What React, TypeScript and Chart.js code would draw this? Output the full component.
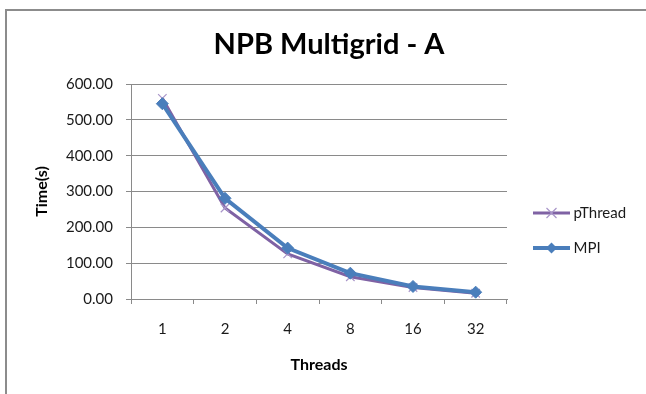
import React, { useEffect, useRef } from 'react';
import { Chart, registerables } from 'chart.js';

Chart.register(...registerables);

// ---- data ----
const threadLabels = ['1', '2', '4', '8', '16', '32'];
const pThreadTimes = [560, 254, 126, 62, 32, 16];
const mpiTimes = [545, 281, 142, 72, 35, 19];
const seriesNames = ['pThread', 'MPI'];
const titleText = 'NPB Multigrid - A';
const xTitle = 'Threads';
const yTitle = 'Time(s)';
const yMin = 0;
const yMax = 600;
const yStep = 100;

// ---- style / layout ----
const W = 646;
const H = 394;
const FONT = 'Lato';
const PURPLE = '#7f62a4';
const PURPLE_LIGHT = '#a996c9';
const BLUE = '#4a7ebb';
const GRID = '#8a8a8a';
const TEXT = '#1a1a1a';
const plotLeft = 131;
const plotRight = 507;
const tickSize = 15;
const legendSize = 15;
const legendPad = 20;
const legendBoxW = 39;
const axisTitleSize = 16;

function makeIcon(color: string, lineW: number, marker: 'cross' | 'diamond'): HTMLCanvasElement {
  const c = document.createElement('canvas');
  c.width = 47;
  c.height = 16;
  const ctx = c.getContext('2d')!;
  ctx.strokeStyle = color;
  ctx.lineWidth = lineW;
  ctx.beginPath();
  ctx.moveTo(10, 8);
  ctx.lineTo(47, 8);
  ctx.stroke();
  const cx = 28.5;
  if (marker === 'cross') {
    ctx.strokeStyle = PURPLE_LIGHT;
    ctx.lineWidth = 1.2;
    ctx.beginPath();
    ctx.moveTo(cx - 5, 3);
    ctx.lineTo(cx + 5, 13);
    ctx.moveTo(cx + 5, 3);
    ctx.lineTo(cx - 5, 13);
    ctx.stroke();
  } else {
    ctx.fillStyle = color;
    ctx.beginPath();
    ctx.moveTo(cx, 2.5);
    ctx.lineTo(cx + 5.5, 8);
    ctx.lineTo(cx, 13.5);
    ctx.lineTo(cx - 5.5, 8);
    ctx.closePath();
    ctx.fill();
  }
  return c;
}

const borderPlugin = {
  id: 'outerBorder',
  beforeDraw(chart: any) {
    const ctx = chart.ctx;
    ctx.save();
    ctx.fillStyle = '#ffffff';
    ctx.fillRect(0, 0, chart.width, chart.height);
    ctx.strokeStyle = '#8c8c8c';
    ctx.lineWidth = 2;
    ctx.beginPath();
    ctx.moveTo(6, H);
    ctx.lineTo(6, 10);
    ctx.lineTo(W, 10);
    ctx.stroke();
    ctx.restore();
  },
};

export default function App() {
  const ref = useRef<HTMLCanvasElement>(null);

  useEffect(() => {
    const canvas = ref.current;
    if (!canvas) return;

    const m = document.createElement('canvas').getContext('2d')!;
    m.font = `${legendSize}px ${FONT}`;
    const textW = Math.max(...seriesNames.map((s) => m.measureText(s).width));
    const legendW = legendPad + legendBoxW + legendSize / 2 + textW + 10;
    const pr = W - plotRight - legendW;
    const pl = pr + 12;
    const icons = [makeIcon(PURPLE, 3, 'cross'), makeIcon(BLUE, 4, 'diamond')];
    const axisLH = axisTitleSize * 1.2;

    const chart = new Chart(canvas, {
      type: 'line',
      data: {
        labels: threadLabels,
        datasets: [
          {
            label: seriesNames[0],
            data: pThreadTimes,
            borderColor: PURPLE,
            backgroundColor: PURPLE,
            borderWidth: 3,
            pointStyle: 'crossRot',
            pointRadius: 6,
            pointBorderColor: PURPLE_LIGHT,
            pointBorderWidth: 1.2,
            order: 1,
          },
          {
            label: seriesNames[1],
            data: mpiTimes,
            borderColor: BLUE,
            backgroundColor: BLUE,
            borderWidth: 4,
            pointStyle: 'rectRot',
            pointRadius: 6,
            pointBorderColor: BLUE,
            pointBackgroundColor: BLUE,
            pointBorderWidth: 1,
            order: 0,
          },
        ],
      },
      options: {
        responsive: false,
        animation: false,
        layout: { padding: { left: pl, right: pr, top: 0, bottom: -67 } },
        plugins: {
          tooltip: { enabled: false },
          title: {
            display: true,
            text: titleText,
            color: '#000',
            font: { family: FONT, size: 29, weight: 'bold', lineHeight: 1.2 },
            padding: { top: 27.1, bottom: 22.1 },
          },
          legend: {
            display: true,
            position: 'right',
            align: 'center',
            labels: {
              usePointStyle: true,
              pointStyleWidth: legendBoxW,
              padding: legendPad,
              color: TEXT,
              font: { family: FONT, size: legendSize },
              generateLabels: (ch: any) =>
                ch.data.datasets.map((ds: any, i: number) => ({
                  text: ds.label,
                  fillStyle: ds.borderColor,
                  strokeStyle: ds.borderColor,
                  lineWidth: 0,
                  hidden: false,
                  datasetIndex: i,
                  pointStyle: icons[i],
                  fontColor: TEXT,
                })),
            },
          },
        },
        scales: {
          x: {
            type: 'category',
            offset: true,
            grid: {
              offset: true,
              drawOnChartArea: false,
              drawTicks: true,
              tickLength: 5,
              color: GRID,
            },
            border: { display: true, color: GRID, width: 1 },
            ticks: {
              color: TEXT,
              padding: 16,
              maxRotation: 0,
              font: { family: FONT, size: tickSize },
            },
            title: {
              display: true,
              text: xTitle,
              color: '#000',
              font: { family: FONT, size: axisTitleSize, weight: 'bold', lineHeight: 1.2 },
              padding: { top: 0, bottom: 96.5 - axisLH / 2 },
            },
            afterFit: (s: any) => {
              s.height = 162;
            },
          },
          y: {
            min: yMin,
            max: yMax,
            grid: {
              color: GRID,
              lineWidth: 1,
              drawTicks: true,
              tickLength: 5,
            },
            border: { display: true, color: GRID, width: 1 },
            ticks: {
              stepSize: yStep,
              color: TEXT,
              padding: 13,
              font: { family: FONT, size: tickSize },
              callback: (v: any) => Number(v).toFixed(2),
            },
            title: {
              display: true,
              text: yTitle,
              color: '#000',
              font: { family: FONT, size: axisTitleSize, weight: 'bold', lineHeight: 1.2 },
              padding: { top: 42 - axisLH / 2 - pl, bottom: 0 },
            },
            afterFit: (s: any) => {
              s.width = plotLeft - pl;
            },
          },
        },
      },
      plugins: [borderPlugin],
    } as any);

    return () => chart.destroy();
  }, []);

  return (
    <div style={{ position: 'fixed', left: 0, top: 0, width: W, height: H, background: '#fff' }}>
      <canvas ref={ref} width={W} height={H} style={{ display: 'block', width: W, height: H }} />
    </div>
  );
}
